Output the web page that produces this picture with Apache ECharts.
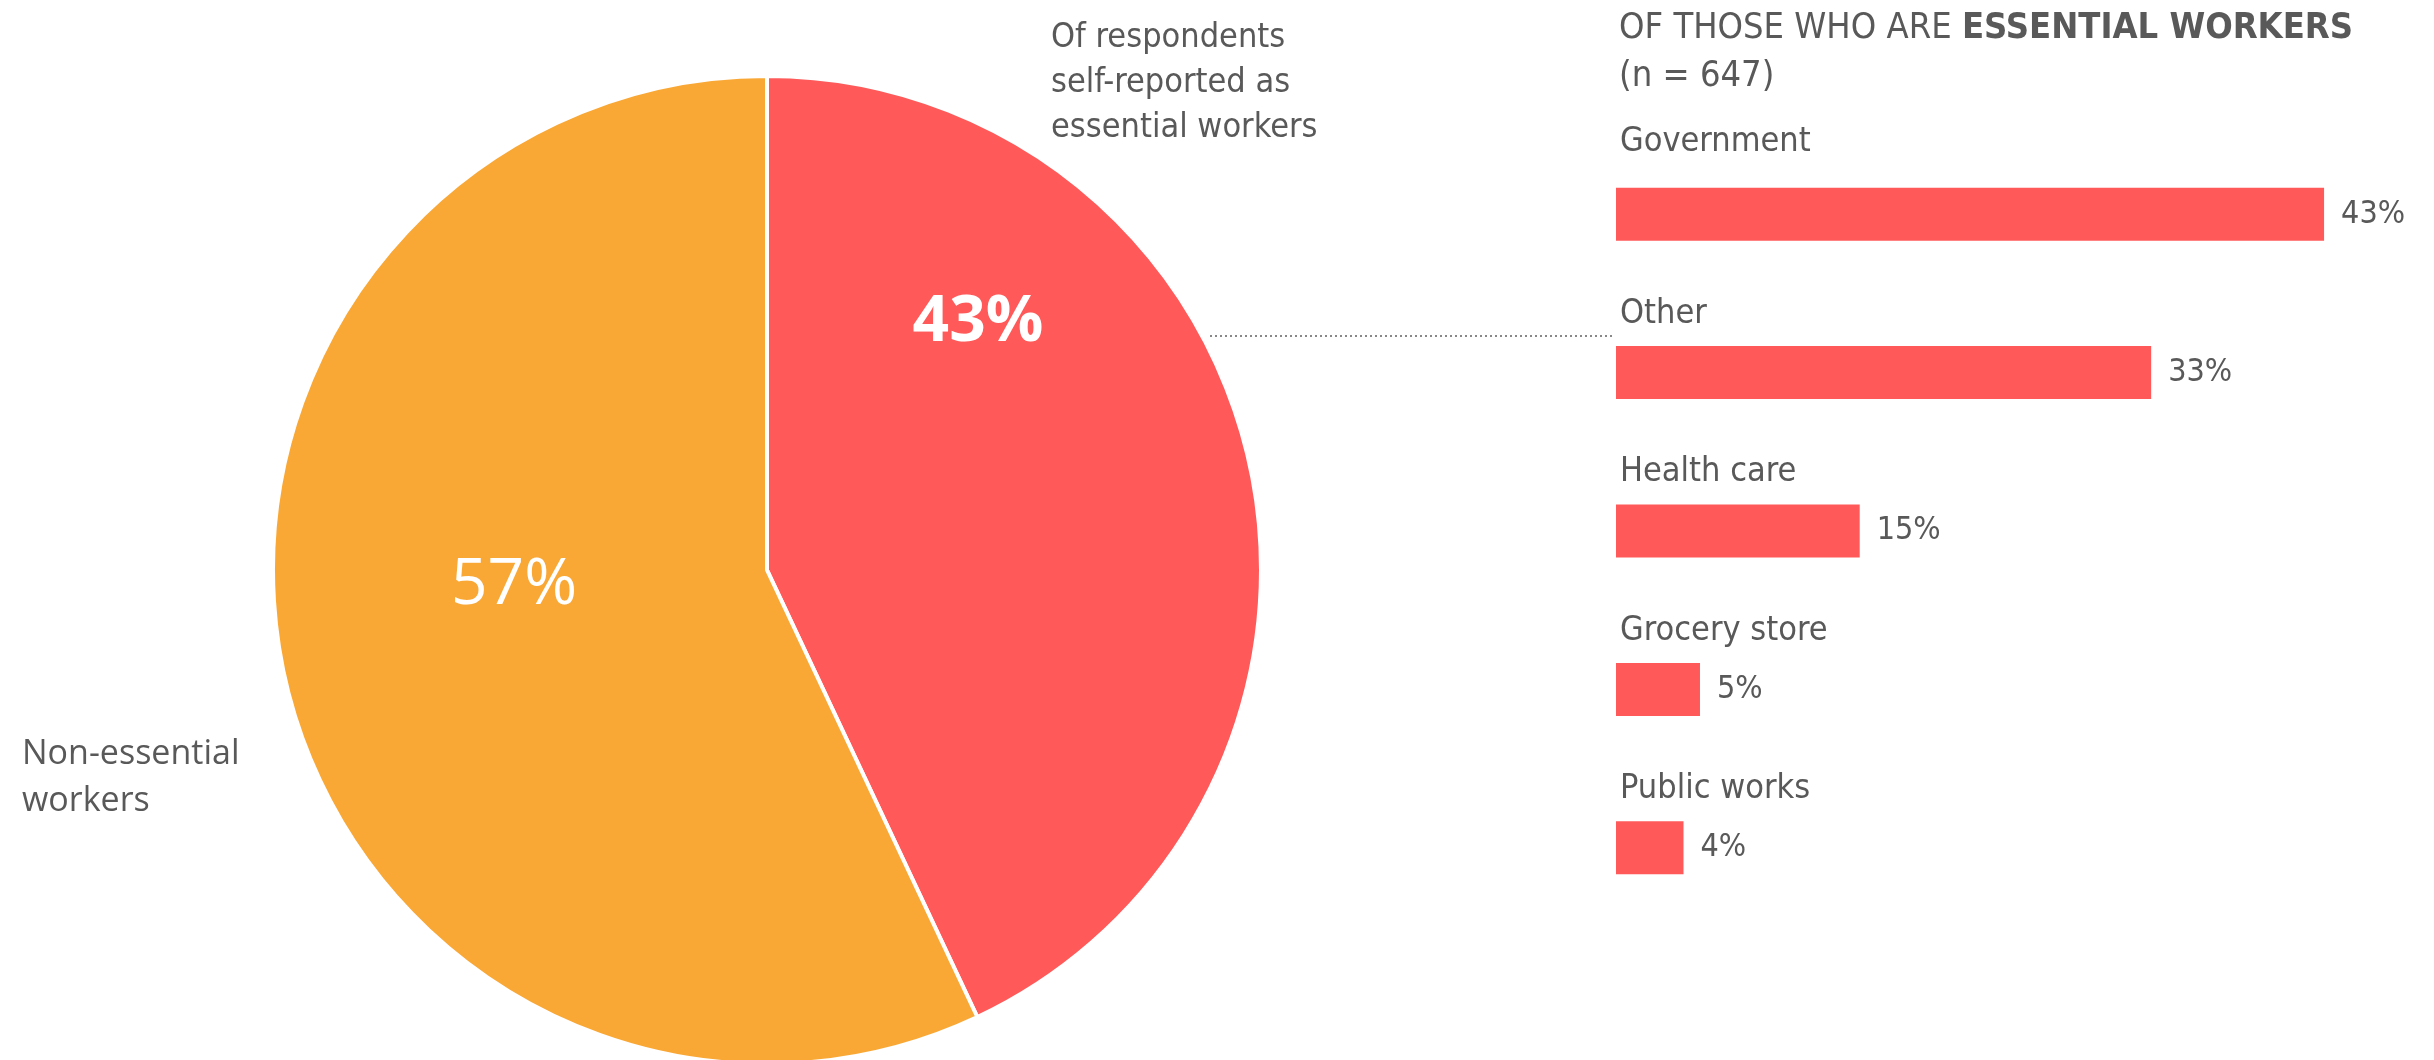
<!DOCTYPE html>
<html>
<head>
<meta charset="utf-8">
<script src="https://cdn.jsdelivr.net/npm/echarts@6/dist/echarts.min.js"></script>
<style>
html,body{margin:0;padding:0;background:#fff;}
#main{width:2434px;height:1060px;}
</style>
</head>
<body>
<div id="main"></div>
<script>
// Pie data
const pieNames = ['Of respondents self-reported as essential workers', 'Non-essential workers'];
const pieValues = [43, 57];
const pieLabels = ['43%', '57%'];
// Bar data
const barCategories = ['Government', 'Other', 'Health care', 'Grocery store', 'Public works'];
const barValues = [43, 32.5, 14.8, 5.1, 4.1];
const barLabels = ['43%', '33%', '15%', '5%', '4%'];
const barTitle = 'OF THOSE WHO ARE ';
const barTitleBold = 'ESSENTIAL WORKERS';
const barSubtitle = '(n = 647)';

const RED = '#FF5A59';
const ORANGE = '#F9A836';
const GRAY = '#595959';
const NARROW = "'Liberation Sans Narrow', 'DejaVu Sans Condensed', 'Open Sans', sans-serif";
const WIDE = "'Open Sans', 'Noto Sans', sans-serif";

const chart = echarts.init(document.getElementById('main'), null, {renderer: 'canvas'});

const nameLabelData = barValues.map((v, i) => i === 0
  ? {value: v, label: {position: [4, -46]}}
  : {value: v});

const option = {
  backgroundColor: '#ffffff',
  animation: false,
  grid: {left: 1616, top: 135, width: 741, height: 792, containLabel: false},
  xAxis: {type: 'value', min: 0, max: 45, show: false},
  yAxis: {
    type: 'category', data: barCategories, inverse: true, show: false
  },
  series: [
    {
      type: 'pie',
      center: [767, 570],
      radius: 494,
      startAngle: 90,
      clockwise: true,
      silent: true,
      label: {show: false},
      labelLine: {show: false},
      itemStyle: {borderColor: '#ffffff', borderWidth: 4},
      data: pieNames.map((n, i) => ({name: n, value: pieValues[i], itemStyle: {color: i === 0 ? RED : ORANGE}}))
    },
    {
      type: 'bar',
      data: barValues,
      barWidth: 53,
      itemStyle: {color: RED},
      silent: true,
      label: {
        show: true, position: 'right', distance: 17,
        color: GRAY, fontFamily: NARROW, fontSize: 32,
        formatter: p => barLabels[p.dataIndex]
      }
    },
    {
      // invisible overlay only used to carry the category names above each bar
      type: 'bar',
      data: nameLabelData,
      barWidth: 53,
      barGap: '-100%',
      itemStyle: {color: 'rgba(0,0,0,0)'},
      silent: true,
      label: {
        show: true, position: [4, -32], align: 'left', verticalAlign: 'middle',
        color: GRAY, fontFamily: NARROW, fontSize: 34,
        formatter: p => p.name
      }
    }
  ],
  graphic: [
    {type: 'text', x: 978, y: 323, z: 100, style: {text: pieLabels[0], fill: '#fff', font: "bold 64px 'Open Sans', sans-serif", align: 'center', verticalAlign: 'middle'}},
    {type: 'text', x: 514, y: 586, z: 100, style: {text: pieLabels[1], fill: '#fff', font: "normal 64px 'Open Sans', sans-serif", align: 'center', verticalAlign: 'middle'}},
    {type: 'text', left: 1051, top: 16, z: 100, style: {text: 'Of respondents\nself-reported as\nessential workers', fill: GRAY, font: "34px " + NARROW, lineHeight: 45}},
    {type: 'text', left: 22, top: 731, z: 100, style: {text: 'Non-essential\nworkers', fill: GRAY, font: "34px " + WIDE, lineHeight: 47}},
    {type: 'text', left: 1619, top: 11, z: 100, style: {
      text: '{n|' + barTitle + '}{b|' + barTitleBold + '}\n{n|' + barSubtitle + '}',
      rich: {
        n: {fill: GRAY, fontFamily: NARROW, fontSize: 36, lineHeight: 48},
        b: {fill: GRAY, fontFamily: NARROW, fontSize: 36, fontWeight: 'bold', lineHeight: 48}
      }
    }},
    {type: 'line', z: 100, shape: {x1: 1210, y1: 336, x2: 1614, y2: 336}, style: {stroke: '#888', lineWidth: 2, lineDash: [2, 3]}}
  ]
};
chart.setOption(option);
</script>
</body>
</html>
